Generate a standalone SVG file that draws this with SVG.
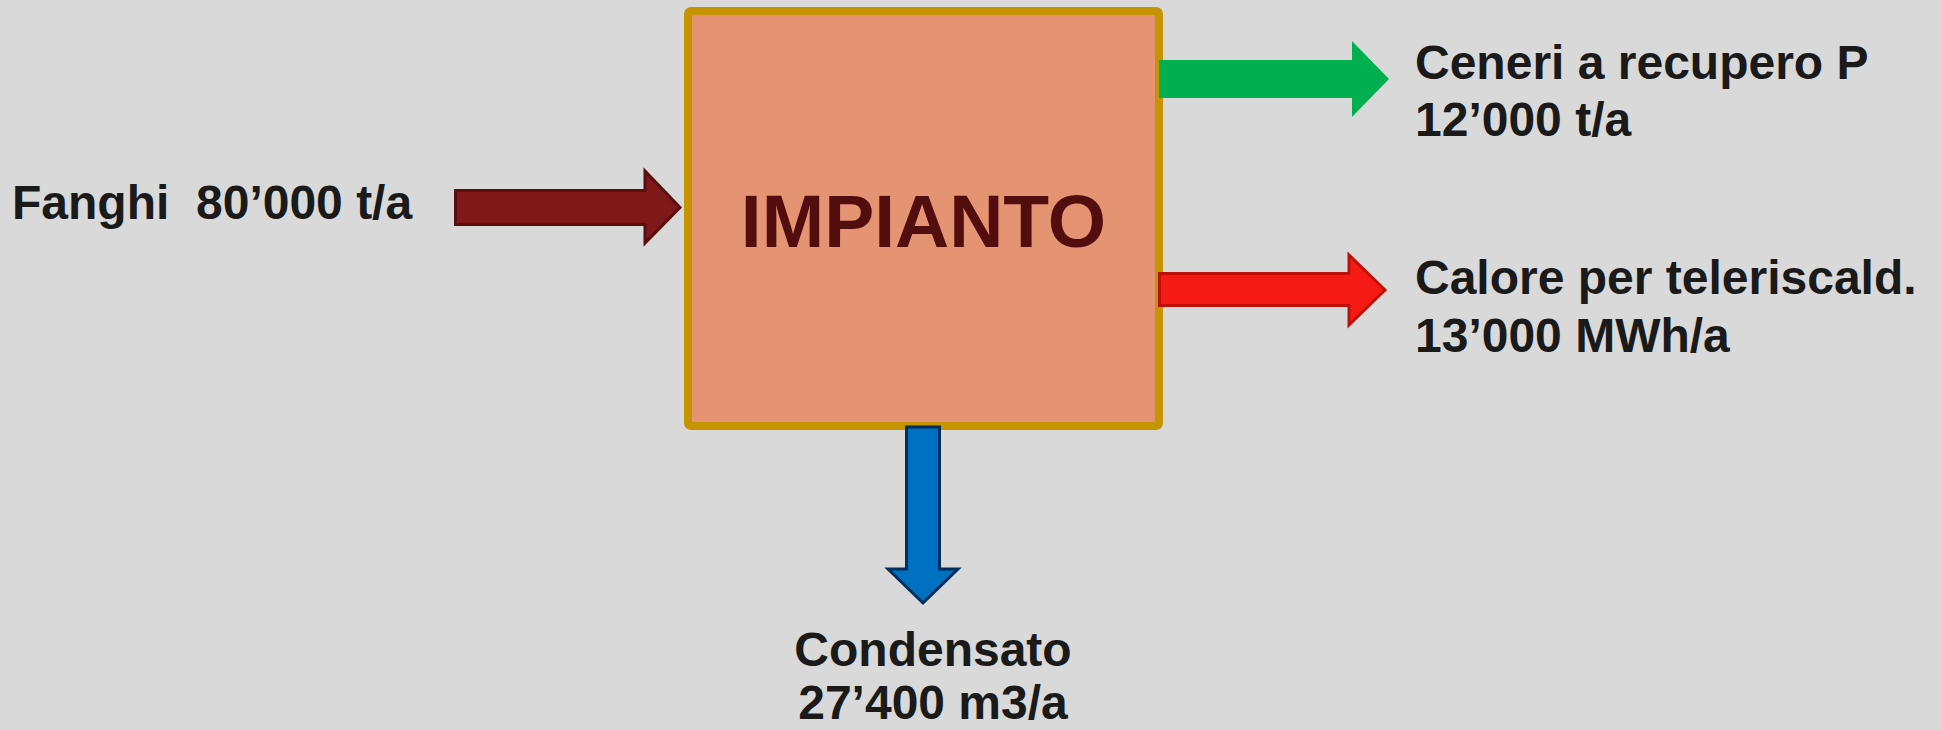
<svg xmlns="http://www.w3.org/2000/svg" width="1942" height="730" viewBox="0 0 1942 730">
<style>
.lbl{font-family:"Liberation Sans",Arial,sans-serif;font-weight:bold;font-size:48px;fill:#1a1a1a}
.title{font-family:"Liberation Sans",Arial,sans-serif;font-weight:bold;font-size:75px;fill:#520e0e}
</style>
<rect x="0" y="0" width="1942" height="730" fill="#d9d9d9"/>
<g id="impianto">
<rect x="688" y="11" width="471" height="415" rx="3" fill="#e59473" stroke="#c59400" stroke-width="8"/>
<text class="title" x="923.5" y="247" text-anchor="middle">IMPIANTO</text>
</g>
<g id="connectors">
<polygon points="455.5,190.5 645,190.5 645,171 680,207.5 645,243 645,224.5 455.5,224.5" fill="#7f1818" stroke="#5a0f0f" stroke-width="3"/>
<polygon points="1159,60 1352,60 1352,41 1389,79 1352,117 1352,98 1159,98" fill="#00b050"/>
<polygon points="1159.5,273.5 1349,273.5 1349,255 1385,290 1349,325 1349,305.5 1159.5,305.5" fill="#f51a14" stroke="#be1008" stroke-width="3"/>
<polygon points="906.5,427 939.5,427 939.5,569 958,569 923,603 888,569 906.5,569" fill="#0070c0" stroke="#002e5a" stroke-width="3"/>
</g>
<g id="fanghi">
<text class="lbl" x="12" y="219" xml:space="preserve">Fanghi  80’000 t/a</text>
</g>
<g id="ceneri">
<text class="lbl" x="1415" y="79">Ceneri a recupero P</text>
<text class="lbl" x="1415" y="136">12’000 t/a</text>
</g>
<g id="calore">
<text class="lbl" x="1415" y="294">Calore per teleriscald.</text>
<text class="lbl" x="1415" y="352">13’000 MWh/a</text>
</g>
<g id="condensato">
<text class="lbl" x="933" y="666" text-anchor="middle">Condensato</text>
<text class="lbl" x="933" y="719" text-anchor="middle">27’400 m3/a</text>
</g>
</svg>
